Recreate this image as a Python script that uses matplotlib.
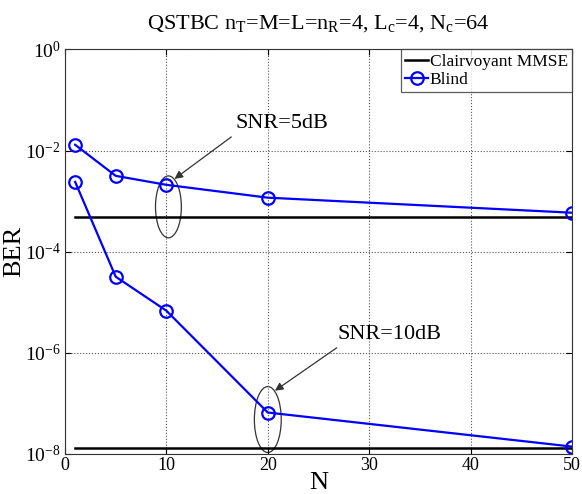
import matplotlib
matplotlib.use("Agg")
import matplotlib.pyplot as plt
from matplotlib.patches import Ellipse
import numpy as np

plt.rcParams['font.family'] = ['Liberation Serif', 'DejaVu Serif']
plt.rcParams['mathtext.fontset'] = 'custom'
plt.rcParams['mathtext.rm'] = 'Liberation Serif'
plt.rcParams['mathtext.it'] = 'Liberation Serif'
plt.rcParams['mathtext.default'] = 'regular'

N_blind = [1, 5, 10, 20, 50]
ber_blind_5dB = [1.30e-2, 3.16e-3, 2.1e-3, 1.17e-3, 5.9e-4]
ber_blind_10dB = [2.4e-3, 3.2e-5, 6.8e-6, 6.6e-8, 1.4e-8]
N_mmse = [1, 50]
ber_mmse_5dB = [4.9e-4, 4.9e-4]
ber_mmse_10dB = [1.3e-8, 1.3e-8]

xticks = [0, 10, 20, 30, 40, 50]
yticks = [1e0, 1e-2, 1e-4, 1e-6, 1e-8]

fig = plt.figure(figsize=(5.82, 4.94), dpi=100)
ax = fig.add_axes([0.1117, 0.081, 0.8711, 0.819])

ax.plot(N_mmse, ber_mmse_5dB, color='black', lw=1.8, label='Clairvoyant MMSE')
ax.plot(N_blind, ber_blind_5dB, color='#0000ff', lw=1.6, marker='o', ms=9,
        mfc='none', mec='#0000ff', mew=1.6, label='Blind')
ax.plot(N_mmse, ber_mmse_10dB, color='black', lw=1.8)
ax.plot(N_blind, ber_blind_10dB, color='#0000ff', lw=1.6, marker='o', ms=9,
        mfc='none', mec='#0000ff', mew=1.6)

ax.set_yscale('log')
ax.set_xlim(0, 50)
ax.set_ylim(1e-8, 1e0)
ax.set_xticks(xticks)
ax.set_yticks(yticks)
ax.set_yticklabels([r'$10^{%d}$' % int(np.log10(v)) for v in yticks])
ax.yaxis.set_minor_locator(matplotlib.ticker.NullLocator())
ax.tick_params(direction='in', length=4, top=True, right=True)
ax.tick_params(axis='x', labelsize=13, pad=2)
ax.tick_params(axis='y', labelsize=14, pad=3)
ax.grid(True, which='major', linestyle=':', color='#555555', lw=0.8)
for s in ax.spines.values():
    s.set_linewidth(0.8)
    s.set_color('#333333')

ax.set_xlabel('N', fontsize=19, labelpad=-1)
ax.set_ylabel('BER', fontsize=19, labelpad=0)
ax.set_title(r'QSTBC n$_T$=M=L=n$_R$=4, L$_c$=4, N$_c$=64', fontsize=16, pad=15)

leg = ax.legend(loc='upper right', fontsize=12.5, frameon=True, fancybox=False,
                edgecolor='#333333', handlelength=1.3, handletextpad=0.1,
                borderpad=0.25, labelspacing=0.1, borderaxespad=0.0)
leg.get_frame().set_linewidth(0.9)

fig.canvas.draw()
def axes_pt(x, y):
    return ax.transAxes.inverted().transform(ax.transData.transform((x, y)))

c1 = axes_pt(10.2, 7.7e-4)
ax.add_patch(Ellipse(c1, 0.051, 0.153, transform=ax.transAxes, fill=False,
                     ec='#333333', lw=0.9))
c2 = axes_pt(20.0, 4.8e-8)
ax.add_patch(Ellipse(c2, 0.053, 0.163, transform=ax.transAxes, fill=False,
                     ec='#333333', lw=0.9))

ax.text(21.4, 3.5e-2, 'SNR=5dB', fontsize=16, ha='center', va='center')
ax.annotate('', xy=(10.8, 2.75e-3), xytext=(16.4, 1.86e-2),
            arrowprops=dict(arrowstyle='-|>', color='#333333', lw=0.9,
                            mutation_scale=12, shrinkA=0, shrinkB=0))
ax.text(32.0, 2.3e-6, 'SNR=10dB', fontsize=16, ha='center', va='center')
ax.annotate('', xy=(20.7, 1.78e-7), xytext=(26.8, 1.26e-6),
            arrowprops=dict(arrowstyle='-|>', color='#333333', lw=0.9,
                            mutation_scale=12, shrinkA=0, shrinkB=0))

fig.savefig('out.png', dpi=100)
